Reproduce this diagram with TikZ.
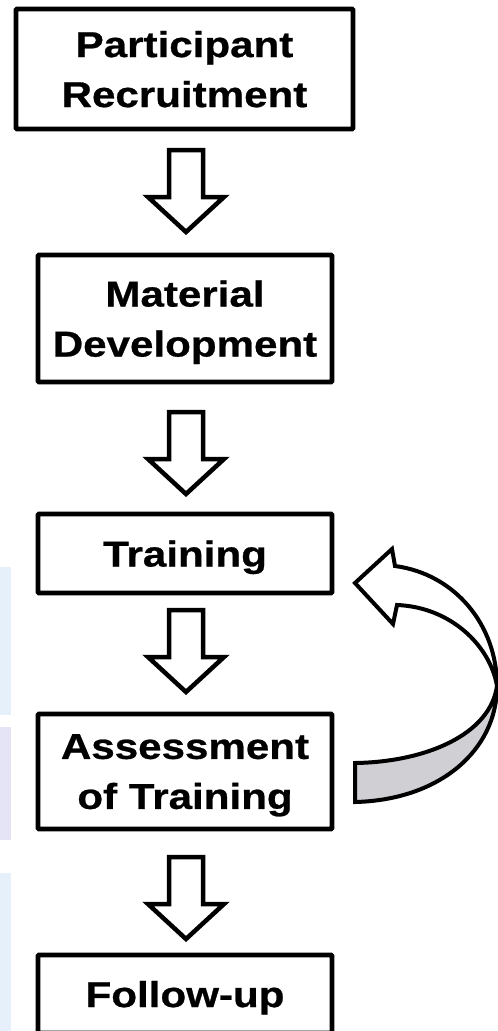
\documentclass[tikz,border=0pt]{standalone}
\usepackage{fontspec}
\newfontfamily\labfont[FakeStretch=1.17,FakeBold=0.7]{Liberation Sans}
\definecolor{wmblue}{RGB}{230,240,251}
\definecolor{wmlav}{RGB}{228,228,246}
\definecolor{ribbongray}{RGB}{208,207,212}
\tikzset{
  box/.style={draw, line width=4.8pt, rounded corners=1pt, fill=white, align=center,
    font=\labfont\bfseries\fontsize{36}{50}\selectfont, text depth=0pt, inner sep=0pt},
  blockarrow/.style={draw, line width=4.5pt, fill=white, line join=miter},
  ribbon/.style={draw, line width=4pt, line join=miter},
  pics/downarrow/.style={code={
    \draw[blockarrow] (-17,0) -- (17,0) -- (17,47) -- (38,47) -- (0,82) -- (-38,47) -- (-17,47) -- cycle;
  }}
}
\begin{document}
\begin{tikzpicture}[x=1pt,y=-1pt]
\useasboundingbox (0,0) rectangle (498,1031);
\clip (0,0) rectangle (498,1031);
% faint background watermark at the left edge
\fill[wmblue] (0,567) rectangle (11,715);
\fill[wmlav] (0,727) rectangle (11,840);
\fill[wmblue] (0,873) rectangle (11,1031);
% boxes
\node[box, minimum width=337pt, minimum height=120pt] (recruit) at (184.5,69) {Participant\\Recruitment};
\node[box, minimum width=294pt, minimum height=127pt] (material) at (185,318.5) {Material\\Development};
\node[box, minimum width=294pt, minimum height=79pt] (training) at (185,553.5) {Training};
\node[box, minimum width=294pt, minimum height=115pt] (assess) at (185,771.5) {Assessment\\of Training};
\node[box, minimum width=294pt, minimum height=78pt] (follow) at (185,994) {Follow-up};
% block arrows
\coordinate (a1) at (186,150);
\coordinate (a2) at (186,412);
\coordinate (a3) at (186,610);
\coordinate (a4) at (186,857);
\pic at (a1) {downarrow};
\pic at (a2) {downarrow};
\pic at (a3) {downarrow};
\pic at (a4) {downarrow};
% curved feedback ribbon arrow from assessment back to training
\coordinate (tw) at (497,686);
\filldraw[ribbon, fill=ribbongray] (tw) .. controls (497,750) and (440,800) .. (355,802)
  -- (355,763) .. controls (425,762) and (490,735) .. (tw) -- cycle;
\filldraw[ribbon, fill=white] (355,583) -- (392,549) -- (395,566)
  .. controls (455,574) and (497,625) .. (tw)
  .. controls (490,645) and (450,607) .. (397,605) -- (393,624) -- cycle;
\end{tikzpicture}
\end{document}
